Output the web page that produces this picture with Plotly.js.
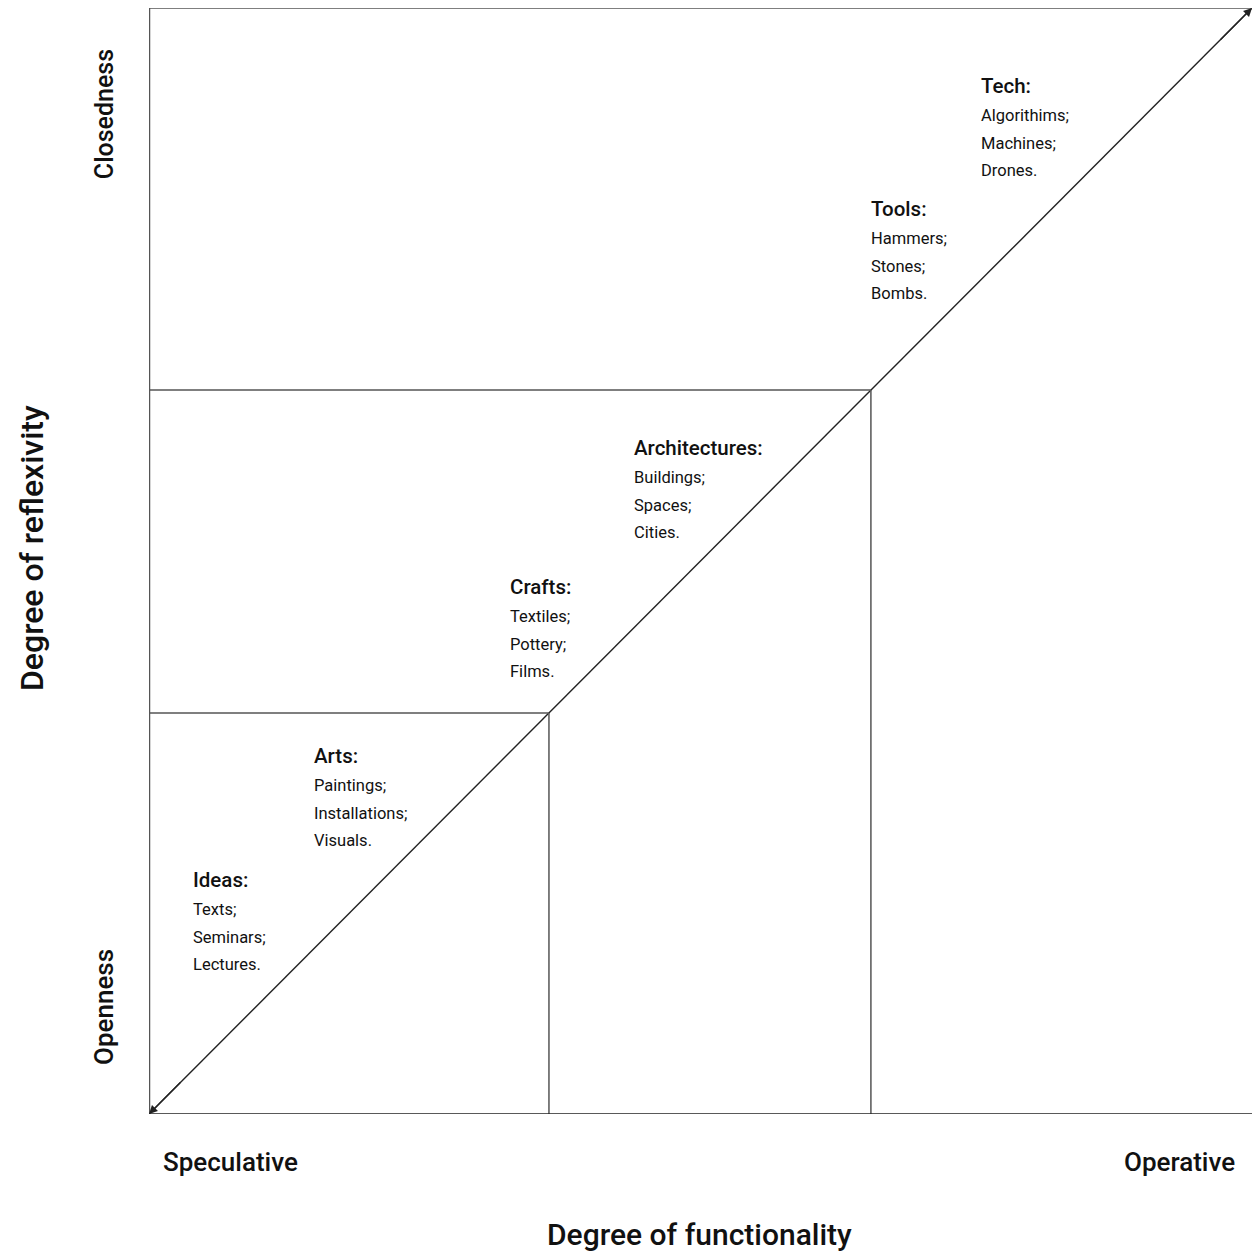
<!DOCTYPE html>
<html>
<head>
<meta charset="utf-8">
<script src="https://cdn.plot.ly/plotly-3.0.1.min.js"></script>
<style>
html,body{margin:0;padding:0;background:#fff;}
#chart{width:1252px;height:1257px;}
</style>
</head>
<body>
<div id="chart"></div>
<script>
// Categories along the diagonal (data coordinates, 0..1 both axes)
const categories = ["Ideas:", "Arts:", "Crafts:", "Architectures:", "Tools:", "Tech:"];
const categoryItems = [
  ["Texts;", "Seminars;", "Lectures."],
  ["Paintings;", "Installations;", "Visuals."],
  ["Textiles;", "Pottery;", "Films."],
  ["Buildings;", "Spaces;", "Cities."],
  ["Hammers;", "Stones;", "Bombs."],
  ["Algorithims;", "Machines;", "Drones."]
];
const labelX = [0.0408, 0.1505, 0.3282, 0.4406, 0.6555, 0.7552];
const labelY = [0.2116, 0.3237, 0.4765, 0.6022, 0.8183, 0.9295];

// Nested zones (square boundaries)
const zoneEdges = [0.3626, 0.6545];

// Diagonal
const diagX = [0, 1];
const diagY = [0, 1];

const xTickLabels = ["Speculative", "Operative"];
const yTickLabels = ["Openness", "Closedness"];
const xTitle = "Degree of functionality";
const yTitle = "Degree of reflexivity";

const FONT = 'Roboto, "Liberation Sans", sans-serif';
const lineCol = '#222';
const frameCol = '#555';
const PLOT_H = 1106;

const shapes = [];
zoneEdges.forEach(e => {
  shapes.push({type:'line', xref:'x', yref:'y', x0:0, x1:e, y0:e, y1:e, line:{color:frameCol, width:1.5}});
  shapes.push({type:'line', xref:'x', yref:'y', x0:e, x1:e, y0:0, y1:e, line:{color:frameCol, width:1.5}});
});
// frame
shapes.push({type:'line', xref:'x', yref:'y', x0:0, x1:1, y0:1, y1:1, line:{color:frameCol, width:1.5}});
shapes.push({type:'line', xref:'x', yref:'y', x0:0, x1:0, y0:0, y1:1, line:{color:frameCol, width:2.5}});
shapes.push({type:'line', xref:'x', yref:'y', x0:0, x1:1, y0:0, y1:0, line:{color:'#222', width:1.5}});

const annotations = [];
categories.forEach((c, i) => {
  annotations.push({x:labelX[i], y:labelY[i], xref:'x', yref:'y', text:c, showarrow:false, xshift:-3,
    xanchor:'left', yanchor:'middle', font:{family:FONT, size:20.5, weight:500, color:'#111'}});
  categoryItems[i].forEach((it, k) => {
    annotations.push({x:labelX[i], y:labelY[i] - (30 + 27.5 * k) / PLOT_H, xref:'x', yref:'y', text:it,
      showarrow:false, xshift:-3, xanchor:'left', yanchor:'middle', font:{family:FONT, size:16.5, color:'#111'}});
  });
});
// arrowheads on diagonal
annotations.push({x:diagX[1], y:diagY[1], ax:0.97, ay:0.97, xref:'x', yref:'y', axref:'x', ayref:'y', text:'',
  showarrow:true, arrowhead:2, arrowsize:1.3, arrowwidth:1.3, arrowcolor:lineCol, standoff:0});
annotations.push({x:diagX[0], y:diagY[0], ax:0.03, ay:0.03, xref:'x', yref:'y', axref:'x', ayref:'y', text:'',
  showarrow:true, arrowhead:2, arrowsize:1.3, arrowwidth:1.3, arrowcolor:lineCol, standoff:0});

function paperLabel(x, y, text, size, angle) {
  return {x:x, y:y, xref:'paper', yref:'paper', text:text, showarrow:false, textangle:angle || 0,
    xanchor:'center', yanchor:'middle', font:{family:FONT, size:size, weight:500, color:'#111'}};
}
// axis end labels
annotations.push(paperLabel(0.0743, -0.0434, xTickLabels[0], 26));
annotations.push(paperLabel(0.9347, -0.0434, xTickLabels[1], 26));
annotations.push(paperLabel(-0.0408, (1114 - 1007) / PLOT_H, yTickLabels[0], 26, -90));
annotations.push(paperLabel(-0.0408, 0.904, yTickLabels[1], 25, -90));
annotations.push(paperLabel(0.4995, -0.1094, xTitle, 30));
annotations.push(paperLabel(-0.106, 0.5118, yTitle, 32, -90));

const data = [{
  x: diagX, y: diagY, type:'scatter', mode:'lines',
  line:{color:lineCol, width:1.4}, hoverinfo:'skip', showlegend:false
}];

const layout = {
  width:1252, height:1257,
  margin:{l:149, r:0, t:8, b:143},
  paper_bgcolor:'#fff', plot_bgcolor:'#fff',
  xaxis:{range:[0,1], showgrid:false, zeroline:false, showticklabels:false, showline:false, ticks:'', fixedrange:true},
  yaxis:{range:[0,1], showgrid:false, zeroline:false, showticklabels:false, showline:false, ticks:'', fixedrange:true},
  shapes: shapes,
  annotations: annotations,
  showlegend:false
};

Plotly.newPlot('chart', data, layout, {staticPlot:true, displayModeBar:false});
</script>
</body>
</html>
